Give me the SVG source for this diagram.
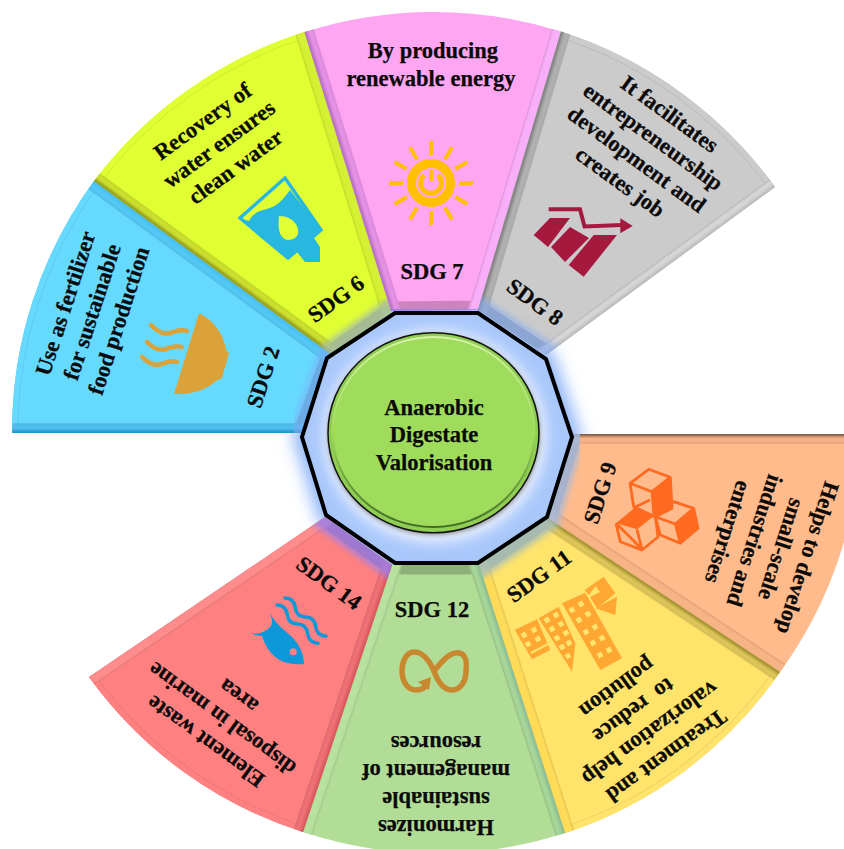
<svg xmlns="http://www.w3.org/2000/svg" xmlns:xlink="http://www.w3.org/1999/xlink" width="844" height="849" viewBox="0 0 844 849">
<style>
text{font-family:"Liberation Serif","Times New Roman",serif;font-weight:bold;font-size:22.5px;fill:#0a0a0a;stroke:#0a0a0a;stroke-width:.25;text-anchor:middle}
.thin{fill:none;stroke:#000;stroke-opacity:.2;stroke-width:19}
.strip{fill:none;stroke-width:18;stroke-linecap:square}
.core{fill:none;stroke-width:6;stroke-linecap:square}
.arc1{fill:none;stroke:#000;stroke-opacity:.07;stroke-width:13}
.blue{fill:none;stroke:#7fa8f5;stroke-opacity:.6;stroke-width:26;stroke-linecap:square;filter:url(#blur3)}
.soft{filter:url(#soft)}
.wave{fill:none;stroke-linecap:round}
</style>
<defs>
<filter id="soft" x="-20%" y="-20%" width="140%" height="140%"><feGaussianBlur stdDeviation="1.2"/></filter>
<filter id="blur3" x="-30%" y="-30%" width="160%" height="160%"><feGaussianBlur stdDeviation="3"/></filter>
<filter id="glow" x="-30%" y="-30%" width="160%" height="160%"><feGaussianBlur stdDeviation="8"/></filter>
<filter id="shadow" x="-20%" y="-20%" width="140%" height="140%"><feGaussianBlur stdDeviation="2.5"/></filter>
<linearGradient id="rim" x1="0" y1="0" x2="0" y2="1"><stop offset="0" stop-color="#d4f2a8"/><stop offset=".5" stop-color="#a0dc5c"/><stop offset="1" stop-color="#3f6a25"/></linearGradient>
<clipPath id="c2"><path d="M12,433A425,425 0 0 1 94,181L331.500,354.500L303,433Z"/></clipPath>
<clipPath id="c6"><path d="M94,181A425,425 0 0 1 304.500,32L391,312L331.500,354.500Z"/></clipPath>
<clipPath id="c7"><path d="M304.500,32A425,425 0 0 1 561,31.500L478,310L391,311Z"/></clipPath>
<clipPath id="c8"><path d="M561,31.500A425,425 0 0 1 775,187L546,355L478,310Z"/></clipPath>
<clipPath id="c9"><path d="M572,434L861,434A425,425 0 0 1 780,672L547,517.500Z"/></clipPath>
<clipPath id="c11"><path d="M547,517.500L780,672A420,420 0 0 1 565,833L479,565Z"/></clipPath>
<clipPath id="c12"><path d="M479,565L565,833A420,420 0 0 1 303,832L392,565Z"/></clipPath>
<clipPath id="c14"><path d="M392,565L303,832A420,420 0 0 1 89,677L325,517Z"/></clipPath>
<clipPath id="deca"><polygon points="395,313 478,313 546,359 572,437 547,517 478,563 395,563 326,515 302,437 327,358"/></clipPath>
<rect id="w" x="-2.6" y="-2.6" width="5.2" height="5.2" fill="#ffe36b" transform="rotate(-30)"/>
</defs>
<rect width="844" height="849" fill="#fff"/>

<g id="connectors"></g>

<g id="halo"><polygon points="395,313 478,313 546,359 572,437 547,517 478,563 395,563 326,515 302,437 327,358" fill="#8fb6f8" stroke="#8fb6f8" stroke-width="18" filter="url(#glow)"/></g>

<g id="sdg-2">
<path d="M12,433A425,425 0 0 1 94,181L331.500,354.500L303,433Z" fill="#66d9ff"/>
<g clip-path="url(#c2)">
<path class="arc1" d="M12,433A425,425 0 0 1 94,181"/>
<path class="arc1" style="stroke:#66d9ff;stroke-opacity:1;stroke-width:11" d="M12,433A425,425 0 0 1 94,181"/>
<path class="thin" d="M12,433L303,433L331.500,354.500L94,181"/>
<g class="soft">
<path class="strip" stroke="#52c8f5" d="M94,181L331.500,354.500"/>
<path class="core" stroke="#48c0f2" d="M94,181L331.500,354.500"/>
<path class="strip" stroke="#4fc0ee" d="M12,433L303,433"/>
<path class="core" stroke="#2796cc" d="M12,433L303,433"/>
</g>
<path class="blue" d="M303,433L331.500,354.500"/>
</g>
<path fill="#dba23a" d="M199,313L174,394C190,395 205,391 216,381L222,378L229,353L226,350C224,334 213,320 199,313Z"/>
<g class="wave" stroke="#dba23a" stroke-width="4.5">
<path d="M151,325C158,332 164,335 170,333S182,329 187,331"/>
<path d="M147,342C154,349 160,351 166,349S177,345 182,347"/>
<path d="M142,357C149,364 155,366 161,364S172,360 177,362"/>
</g>
<text transform="translate(92,312) rotate(-72)"><tspan x="0" y="-20.5">Use as fertilizer</tspan><tspan x="0" y="7.5">for sustainable</tspan><tspan x="0" y="35.5">food production</tspan></text>
<text transform="translate(263,377) rotate(-72)" y="7.5">SDG 2</text>
</g>

<g id="sdg-6">
<path d="M94,181A425,425 0 0 1 304.500,32L391,312L331.500,354.500Z" fill="#e0ff33"/>
<g clip-path="url(#c6)">
<path class="arc1" d="M94,181A425,425 0 0 1 304.500,32"/>
<path class="arc1" style="stroke:#e0ff33;stroke-opacity:1;stroke-width:11" d="M94,181A425,425 0 0 1 304.500,32"/>
<path class="thin" d="M304.500,32L391,312L331.500,354.500L94,181"/>
<g class="soft">
<path class="strip" stroke="#d4f030" d="M304.500,32L391,312"/>
<path class="strip" stroke="#ccdf2e" d="M94,181L331.500,354.500"/>
<path class="core" stroke="#959f20" d="M94,181L331.500,354.500"/>
</g>
<path class="blue" style="stroke:#a0b8b0;stroke-opacity:.8" d="M391,312L331.500,354.500"/>
</g>
<path fill="none" stroke="#27b7e0" stroke-width="3.4" d="M285,178L240,218L288,258L321,230Z"/>
<path fill="#27b7e0" d="M242,219L249,221C256,208 265,212 276,205C283,200 285,196 290,190L321,230L314,238L320,247L320,262L305,262L297,252L288,258Z"/>
<path fill="#e0ff33" d="M279,216C287,216 293,219 297,226C301,235 295,240 288,240C281,240 277,231 279,216Z"/>
<text transform="translate(219,144) rotate(-36)"><tspan x="0" y="-20.5">Recovery of</tspan><tspan x="0" y="7.5">water ensures</tspan><tspan x="0" y="35.5">clean water</tspan></text>
<text transform="translate(336,299) rotate(-36)" y="7.5">SDG 6</text>
</g>

<g id="sdg-7">
<path d="M304.500,32A425,425 0 0 1 561,31.500L478,310L391,311Z" fill="#ffa6f2"/>
<g clip-path="url(#c7)">
<path class="thin" d="M304.500,32L391,311L478,310L561,31.500"/>
<g class="soft">
<path class="strip" stroke="#e490e6" d="M304.500,32L391,311"/>
<path class="core" stroke="#b873c0" d="M304.500,32L391,311"/>
<path class="strip" stroke="#f8aef8" d="M561,31.500L478,310"/>
</g>
<path class="blue" style="stroke:#9080f5;stroke-opacity:.75" d="M391,311L478,310"/>
</g>
<g fill="none" stroke="#ffc000" stroke-linecap="butt">
<circle cx="431" cy="183" r="19.5" stroke-width="9"/>
<path stroke-width="5" d="M424,175A10.500,10.500 0 1 0 438,175"/>
<path stroke-width="4" d="M431,170V181"/>
<path stroke-width="4" d="M431,141V155M452,147.300L445,159.400M467.400,162L455.200,169M473,183H459M467.400,204L455.200,197M452,219.400L445,207.400M431,225V211M410,219.400L417,207.400M394.600,204L406.800,197M389,183H403M394.600,162L406.800,169M410,147.300L417,159.400"/>
</g>
<text x="433" y="58">By producing</text>
<text x="431" y="86">renewable energy</text>
<text x="432" y="279">SDG 7</text>
</g>

<g id="sdg-8">
<path d="M561,31.500A425,425 0 0 1 775,187L546,355L478,310Z" fill="#cbcbcb"/>
<g clip-path="url(#c8)">
<path class="arc1" d="M561,31.500A425,425 0 0 1 775,187"/>
<path class="arc1" style="stroke:#cbcbcb;stroke-opacity:1;stroke-width:11" d="M561,31.500A425,425 0 0 1 775,187"/>
<path class="thin" d="M561,31.500L478,310L546,355L775,187"/>
<g class="soft">
<path class="strip" stroke="#b0b0b0" d="M561,31.500L478,310"/>
<path class="core" stroke="#858585" d="M561,31.500L478,310"/>
<path class="strip" stroke="#d6d6d6" d="M775,187L546,355"/>
<path class="core" stroke="#c0c0c0" d="M775,187L546,355"/>
</g>
<path class="blue" d="M478,310L546,355"/>
</g>
<g fill="#a6193f">
<polygon points="533.700,235 550,218 570,218 548,247"/>
<polygon points="551,247 570,227 589,238 565,262"/>
<polygon points="568.700,265 593.700,235 617,235 583.700,276.700"/>
<polygon points="620.300,218.300 632.700,226 620.300,233.300"/>
</g>
<path fill="none" stroke="#a6193f" stroke-width="4" d="M548.700,209.300H580L584.500,226.500L622,225"/>
<text transform="translate(645,148) rotate(36)"><tspan x="0" y="-34.500">It facilitates</tspan><tspan x="0" y="-6.500">entrepreneurship</tspan><tspan x="0" y="21.500">development and</tspan><tspan x="0" y="49.500">creates job</tspan></text>
<text transform="translate(535,302) rotate(36)" y="7.5">SDG 8</text>
</g>

<g id="sdg-9">
<path d="M572,434L861,434A425,425 0 0 1 780,672L547,517.500Z" fill="#ffbb8c"/>
<g clip-path="url(#c9)">
<path class="thin" d="M861,434L572,434L547,517.500L780,672"/>
<g class="soft">
<path class="strip" stroke="#f5b286" d="M572,434L861,434"/>
<path class="core" style="stroke-width:5" stroke="#7f5a40" d="M572,434L861,434"/>
<path class="strip" stroke="#f6b386" d="M547,517.500L780,672"/>
</g>
<path class="blue" style="stroke:#a0b8e0;stroke-opacity:.85" d="M572,434L547,517.500"/>
</g>
<g fill="none" stroke="#ff6a21" stroke-width="2.800" stroke-linejoin="round">
<path d="M630,483.300L648.700,469.300L670.300,477.300L672,508.300L655,517L633.700,506.700ZM630,483.300L652,491.700L670.300,477.300M652,491.700L654,517M633,508L650,500"/>
<path d="M616,523.300L635,542L642,550L658,537L655.300,515M616,523.300L620.300,541.700L642,550M637,529.300L642,550"/>
<path d="M655.300,516.700L673.700,501.700L693.700,508.300L698,528.300L680.300,543.300L660.300,535ZM655.300,516.700L675.300,524L693.700,508.300M675.300,524L680.300,543.300"/>
</g>
<g fill="#ff6a21">
<polygon points="652,491.700 670.300,477.300 672,508.300 655,517"/>
<polygon points="616,523.300 635.300,507.300 655.300,515 637,529.300"/>
<polygon points="675.300,524 693.700,508.300 698,528.300 680.300,543.300"/>
</g>
<text transform="translate(768,545) rotate(108)"><tspan x="0" y="-34.500">Helps to develop</tspan><tspan x="0" y="-6.500">small-scale</tspan><tspan x="0" y="21.500">industries and</tspan><tspan x="0" y="49.500">enterprises</tspan></text>
<text transform="translate(600,493) rotate(-72)" y="7.5">SDG 9</text>
</g>

<g id="sdg-11">
<path d="M547,517.500L780,672A420,420 0 0 1 565,833L479,565Z" fill="#ffe36b"/>
<g clip-path="url(#c11)">
<path class="arc1" d="M780,672A420,420 0 0 1 565,833"/>
<path class="arc1" style="stroke:#ffe36b;stroke-opacity:1;stroke-width:11" d="M780,672A420,420 0 0 1 565,833"/>
<path class="thin" d="M780,672L547,517.500L479,565L565,833"/>
<g class="soft">
<path class="strip" stroke="#dcc458" d="M780,672L547,517.500"/>
<path class="core" stroke="#a59430" d="M780,672L547,517.500"/>
<path class="strip" stroke="#ffdb58" d="M479,565L565,833"/>
</g>
<path class="blue" style="stroke:#a0bcc0;stroke-opacity:.85" d="M547,517.500L479,565"/>
</g>
<g fill="#ffa733">
<polygon points="562,603.300 585.300,592.700 622,658.300 600.300,670"/>
<polygon points="538.700,618.300 558.700,606.700 575.300,643.300 572,671.700"/>
<polygon points="514.700,630 537,619.300 550.300,650 532,659.300"/>
<polygon points="584.700,590 603.700,576.700 615.300,593.300 597,608.300 590,597 600,592 595.500,586 589,595"/>
<polygon points="595.300,608.300 617,596.700 615.300,615"/>
</g>
<use xlink:href="#w" href="#w" x="572" y="610"/><use xlink:href="#w" href="#w" x="581" y="604"/><use xlink:href="#w" href="#w" x="579" y="620"/><use xlink:href="#w" href="#w" x="588" y="614"/><use xlink:href="#w" href="#w" x="586" y="632"/><use xlink:href="#w" href="#w" x="595" y="627"/><use xlink:href="#w" href="#w" x="593" y="643"/><use xlink:href="#w" href="#w" x="602" y="638"/><use xlink:href="#w" href="#w" x="600" y="655"/><use xlink:href="#w" href="#w" x="609" y="650"/>
<use xlink:href="#w" href="#w" x="547" y="620"/><use xlink:href="#w" href="#w" x="556" y="615"/><use xlink:href="#w" href="#w" x="552" y="629"/><use xlink:href="#w" href="#w" x="561" y="624"/><use xlink:href="#w" href="#w" x="557" y="638"/><use xlink:href="#w" href="#w" x="566" y="633"/><use xlink:href="#w" href="#w" x="562" y="647"/><use xlink:href="#w" href="#w" x="569" y="643"/><use xlink:href="#w" href="#w" x="568" y="656"/>
<use xlink:href="#w" href="#w" x="524" y="635"/><use xlink:href="#w" href="#w" x="534" y="630"/><use xlink:href="#w" href="#w" x="528" y="644"/><use xlink:href="#w" href="#w" x="538" y="639"/>
<path stroke="#ffe36b" stroke-width="2" d="M531,653L548,644"/>
<text transform="translate(642,722) rotate(144)"><tspan x="0" y="-34.500">Treatment and</tspan><tspan x="0" y="-6.500">valorization help</tspan><tspan x="0" y="21.500" xml:space="preserve">to  reduce</tspan><tspan x="0" y="49.500">pollution</tspan></text>
<text transform="translate(539,576) rotate(-36)" y="7.5">SDG 11</text>
</g>

<g id="sdg-12">
<path d="M479,565L565,833A420,420 0 0 1 303,832L392,565Z" fill="#b2dd96"/>
<g clip-path="url(#c12)">
<path class="thin" d="M565,833L479,565L392,565L303,832"/>
<g class="soft">
<path class="strip" stroke="#a6d698" d="M479,565L565,833"/>
<path class="core" stroke="#8fc096" d="M479,565L565,833"/>
<path class="strip" stroke="#b8e09e" d="M392,565L303,832"/>
</g>
<path class="blue" style="stroke:#78b8c8;stroke-opacity:.85" d="M392,565L479,565"/>
</g>
<path fill="none" stroke="#c8882f" stroke-width="5.500" d="M434,671C446,656 452,652 459,653C466,654 467,663 466,671C466,682 460,690 452,690C444,690 438,682 434,671C430,662 423,652 414,652C406,652 402,662 402,671C402,682 408,690 416,690C421,690 425,688 427,684"/>
<polygon fill="#c8882f" points="418,682 431,677 429,690"/>
<text transform="translate(436,785) rotate(180)"><tspan x="0" y="-34.500">Harmonizes</tspan><tspan x="0" y="-6.500">sustainable</tspan><tspan x="0" y="21.500">management of</tspan><tspan x="0" y="49.500">resources</tspan></text>
<text x="432" y="617">SDG 12</text>
</g>

<g id="sdg-14">
<path d="M392,565L303,832A420,420 0 0 1 89,677L325,517Z" fill="#ff8080"/>
<g clip-path="url(#c14)">
<path class="arc1" d="M303,832A420,420 0 0 1 89,677"/>
<path class="arc1" style="stroke:#ff8080;stroke-opacity:1;stroke-width:11" d="M303,832A420,420 0 0 1 89,677"/>
<path class="thin" d="M303,832L392,565L325,517L89,677"/>
<g class="soft">
<path class="strip" stroke="#ee7076" d="M392,565L303,832"/>
<path class="core" stroke="#d95a60" d="M392,565L303,832"/>
<path class="strip" stroke="#ff8c8c" d="M325,517L89,677"/>
</g>
<path class="blue" style="stroke:#9080f5;stroke-opacity:.75" d="M325,517L392,565"/>
</g>
<path fill="#0d98da" d="M251,633C258,635 265,632 270,627C274,622 271,617 270,613C274,622 284,630 292,637C299,644 304,654 304,664C292,665 281,663 273,655C267,649 264,642 262,636C258,636 254,635 251,633Z"/>
<circle cx="293.300" cy="651.700" r="3.500" fill="#ff8080"/>
<g class="wave" stroke="#0d98da" stroke-width="3.500">
<path transform="translate(285,598) rotate(43)" d="M0,0q7,-6 14,0t14,0t14,0t14,0"/>
<path transform="translate(277,605) rotate(43)" d="M0,0q7,-6 14,0t14,0t14,0t14,0"/>
</g>
<text transform="translate(222,719) rotate(216)"><tspan x="0" y="-20.5">Element waste</tspan><tspan x="0" y="7.5">disposal in marine</tspan><tspan x="0" y="35.5">area</tspan></text>
<text transform="translate(329,583) rotate(36)" y="7.5">SDG 14</text>
</g>

<g id="hub">
<polygon points="395,313 478,313 546,359 572,437 547,517 478,563 395,563 326,515 302,437 327,358" fill="#a9c7fb"/>
<g clip-path="url(#deca)"><ellipse cx="435" cy="436" rx="109" ry="104" fill="#fff" filter="url(#glow)"/></g>
<polygon points="395,313 478,313 546,359 572,437 547,517 478,563 395,563 326,515 302,437 327,358" fill="none" stroke="#000" stroke-width="4" stroke-linejoin="miter"/>
<ellipse cx="434" cy="434.500" rx="105.500" ry="100" fill="#000" opacity=".5" filter="url(#shadow)"/>
<ellipse cx="433.500" cy="432.700" rx="105.500" ry="100" fill="#8fce52" stroke="#111" stroke-width="1.500"/>
<ellipse cx="433.500" cy="432" rx="101" ry="95" fill="#a0dc5c" stroke="url(#rim)" stroke-width="2"/>
<text x="434" y="415">Anaerobic</text>
<text x="434" y="442">Digestate</text>
<text x="434" y="470">Valorisation</text>
</g>
</svg>
